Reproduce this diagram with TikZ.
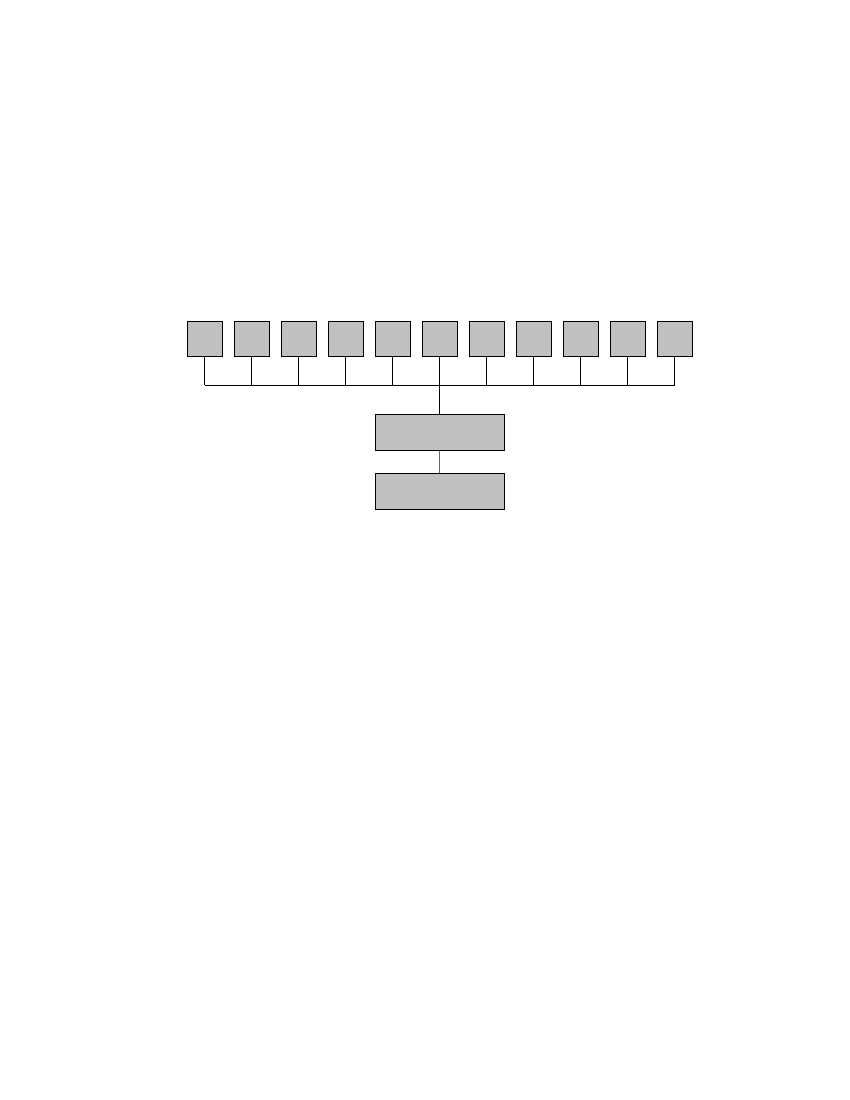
\documentclass[tikz,border=0pt]{standalone}
\definecolor{boxgray}{HTML}{C0C0C0}
\begin{document}
\begin{tikzpicture}[x=1pt,y=-1pt,
  smallbox/.style={draw=black,fill=boxgray,line width=0.7pt,minimum width=35pt,minimum height=35pt,inner sep=0pt},
  widebox/.style={draw=black,fill=boxgray,line width=0.7pt,minimum width=129pt,minimum height=35.5pt,inner sep=0pt},
  link/.style={draw=black,line width=0.7pt}]
\useasboundingbox (0,0) rectangle (850,1100);
\foreach \i in {0,...,10} {
  \node[smallbox] (s\i) at ({204.8+47*\i},338.8) {};
}
\node[widebox] (b1) at (439.8,432.5) {};
\node[widebox] (b2) at (439.8,491.2) {};
\coordinate (bl) at (204.8,385.3);
\coordinate (br) at (674.8,385.3);
\draw[link] (bl) -- (br);
\foreach \i in {0,...,10} {
  \draw[link] (s\i.south) -- (s\i.south |- bl);
}
\draw[link] (b1.north) -- (b1.north |- bl);
\draw[draw=black!60,line width=0.8pt] (b1.south) -- (b2.north);
\end{tikzpicture}
\end{document}
